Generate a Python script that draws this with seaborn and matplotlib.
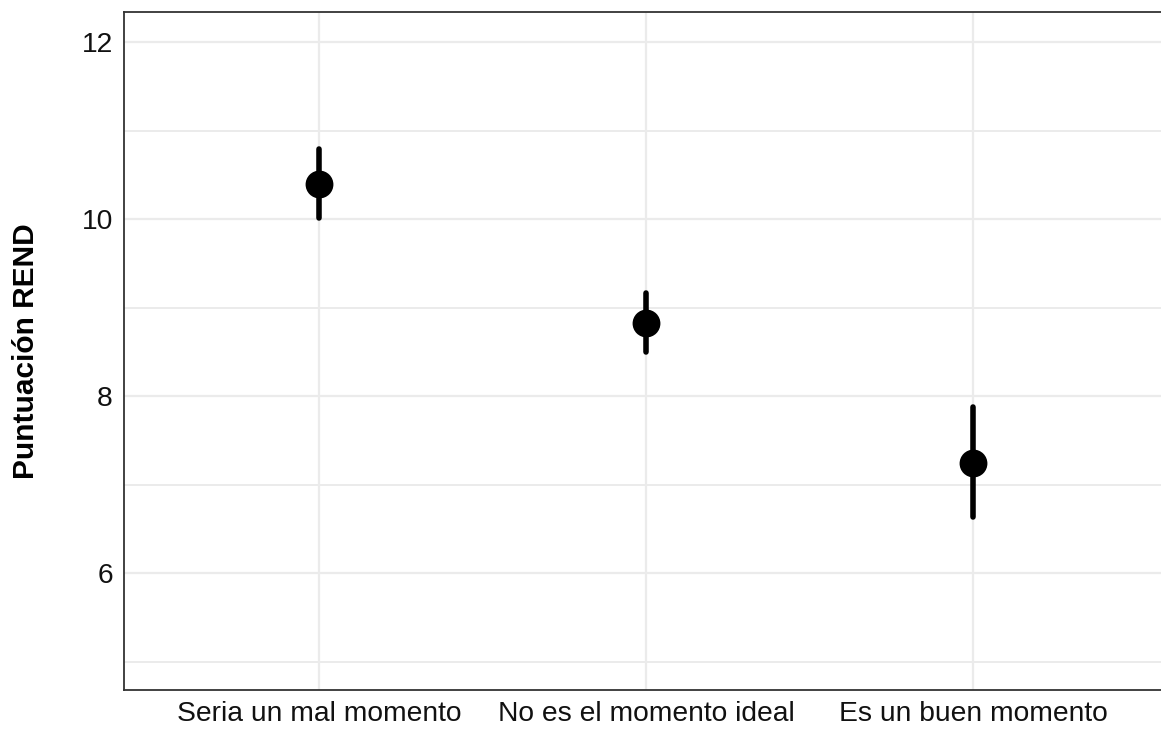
import pandas as pd
import matplotlib.pyplot as plt
import seaborn as sbn
from matplotlib.ticker import MultipleLocator

# valores (media, limite inferior, limite superior)
categorias = ['Seria un mal momento', 'No es el momento ideal', 'Es un buen momento']
medias = [10.40, 8.83, 7.24]
inferior = [10.01, 8.50, 6.63]
superior = [10.79, 9.17, 7.88]

filas = []
for c, m, lo, hi in zip(categorias, medias, inferior, superior):
    for v in (lo, m, hi):
        filas.append({'momento': c, 'rend': v})
df = pd.DataFrame(filas)

sbn.set_style('white')
plt.rcParams['font.family'] = ['Liberation Sans', 'DejaVu Sans']

fig = plt.figure(figsize=(11.61, 7.29), dpi=100)
ax = fig.add_axes([124 / 1161, 1 - 690 / 729, (1168 - 124) / 1161, (690 - 12) / 729])

sbn.pointplot(data=df, x='momento', y='rend', order=categorias,
              estimator='median', errorbar=lambda v: (v.min(), v.max()),
              color='black', linestyle='none', markersize=18, err_kws={'linewidth': 4},
              ax=ax)

ax.set_ylim(4.68, 12.34)
ax.set_xlim(-0.596, 2.596)
ax.yaxis.set_major_locator(MultipleLocator(2))
ax.yaxis.set_minor_locator(MultipleLocator(1))
ax.set_yticks([6, 8, 10, 12])
ax.grid(True, which='major', color='#EBEBEB', linewidth=1.6)
ax.grid(True, which='minor', axis='y', color='#EBEBEB', linewidth=1.4)
ax.set_axisbelow(True)
for s in ax.spines.values():
    s.set_color('#333333')
    s.set_linewidth(1.3)
ax.tick_params(axis='both', which='major', length=5, width=1.2, color='#333333',
               labelsize=20.3, labelcolor='#111111', pad=3)
ax.tick_params(axis='y', which='minor', length=0)
ax.set_xlabel('')
ax.set_ylabel('Puntuación REND', fontsize=21.5, fontweight='bold', color='black', labelpad=30)

fig.savefig('out.png', dpi=100)
